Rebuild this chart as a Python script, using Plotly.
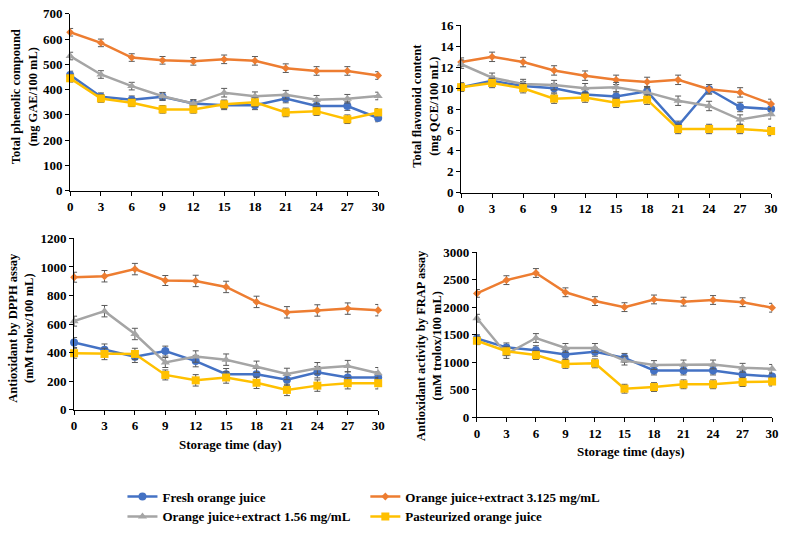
import plotly.graph_objects as go

days = [0, 3, 6, 9, 12, 15, 18, 21, 24, 27, 30]
series_names = ["Fresh orange juice", "Orange juice+extract 3.125 mg/mL",
                "Orange juice+extract 1.56 mg/mL", "Pasteurized orange juice"]

# Panel 1: total phenolic compound
tpc_fresh = [458, 372, 360, 372, 345, 338, 338, 365, 335, 335, 288]
tpc_ext3 = [627, 585, 527, 516, 512, 520, 514, 485, 474, 474, 456]
tpc_ext1 = [533, 460, 414, 374, 345, 388, 374, 380, 360, 364, 375]
tpc_past = [445, 365, 348, 322, 322, 342, 350, 310, 315, 283, 310]
tpc_err = [15, 15, 15, 15, 15, 17, 17, 17, 17, 17, 15]

# Panel 2: total flavonoid content
tfc_fresh = [10.1, 10.7, 10.2, 10.0, 9.4, 9.2, 9.7, 6.4, 9.9, 8.2, 8.0]
tfc_ext3 = [12.5, 13.0, 12.5, 11.7, 11.2, 10.8, 10.6, 10.8, 9.9, 9.6, 8.5]
tfc_ext1 = [12.3, 11.0, 10.4, 10.3, 10.0, 10.1, 9.6, 8.8, 8.3, 7.0, 7.5]
tfc_past = [10.1, 10.5, 10.0, 9.0, 9.1, 8.6, 8.9, 6.1, 6.1, 6.1, 5.9]
tfc_err = [0.4, 0.45, 0.45, 0.45, 0.45, 0.45, 0.45, 0.45, 0.45, 0.45, 0.45]

# Panel 3: DPPH
dpph_fresh = [470, 420, 370, 410, 340, 248, 248, 210, 262, 225, 225]
dpph_ext3 = [928, 935, 985, 905, 902, 860, 755, 682, 695, 708, 697]
dpph_ext1 = [620, 690, 530, 330, 372, 350, 300, 250, 290, 305, 255]
dpph_past = [395, 390, 390, 243, 205, 225, 188, 138, 168, 185, 185]
dpph_err = [35, 40, 40, 35, 40, 40, 40, 40, 40, 40, 40]

# Panel 4: FRAP
frap_fresh = [1430, 1270, 1220, 1140, 1190, 1080, 850, 850, 850, 780, 740]
frap_ext3 = [2250, 2490, 2620, 2270, 2110, 2000, 2140, 2100, 2130, 2090, 1990]
frap_ext1 = [1800, 1150, 1440, 1260, 1260, 1030, 950, 960, 960, 900, 880]
frap_past = [1390, 1200, 1130, 970, 980, 520, 550, 600, 600, 640, 650]
frap_err = [70, 80, 80, 80, 80, 80, 80, 80, 80, 80, 80]

colors = ["#4472C4", "#ED7D31", "#A5A5A5", "#FFC000"]
symbols = ["circle", "diamond", "triangle-up", "square"]
msizes = [8, 6, 8, 8]

panels = [
    dict(data=[tpc_fresh, tpc_ext3, tpc_ext1, tpc_past], err=tpc_err, yr=[0, 700], dt=100,
         xd=[68/787, 380/787], yd=[1-189/544, 1-7/544],
         title="Total phenolic compound<br>(mg GAE/100 mL)", tx=22, ty=92, xt=None),
    dict(data=[tfc_fresh, tfc_ext3, tfc_ext1, tfc_past], err=tfc_err, yr=[0, 16], dt=2,
         xd=[464/787, 778/787], yd=[1-191/544, 1-19/544],
         title="Total flavonoid content<br>(mg QCE/100 mL)", tx=428, ty=102, xt=None),
    dict(data=[dpph_fresh, dpph_ext3, dpph_ext1, dpph_past], err=dpph_err, yr=[0, 1200], dt=200,
         xd=[72/787, 380/787], yd=[1-414/544, 1-238/544],
         title="Antioxidant by DPPH assay<br>(mM trolox/100 mL)", tx=18, ty=330,
         xt="Storage time (day)", xtx=230, xty=450),
    dict(data=[frap_fresh, frap_ext3, frap_ext1, frap_past], err=frap_err, yr=[0, 3000], dt=500,
         xd=[480/787, 779/787], yd=[1-422/544, 1-252/544],
         title="Antioxidant activity by FRAP assay<br>(mM trolox/100 mL)", tx=432, ty=348,
         xt="Storage time (days)", xtx=636, xty=457),
]

font_fam = "Liberation Serif"
fig = go.Figure()
annotations = []
for i, p in enumerate(panels):
    n = "" if i == 0 else str(i + 1)
    for j, ys in enumerate(p["data"]):
        fig.add_trace(go.Scatter(
            x=days, y=ys, mode="lines+markers", name=series_names[j],
            line=dict(color=colors[j], width=2.5),
            marker=dict(symbol=symbols[j], size=msizes[j], color=colors[j]),
            error_y=dict(type="data", array=p["err"], color="#595959", thickness=1, width=3),
            xaxis="x" + n, yaxis="y" + n, cliponaxis=False,
            showlegend=(i == 0),
            legend="legend" if j in (0, 2) else "legend2",
        ))
    ax = dict(showline=True, linecolor="black", linewidth=1, showgrid=False, zeroline=False,
              ticks="outside", ticklen=4, tickcolor="black",
              tickfont=dict(family=font_fam, size=13, color="black", weight="bold"))
    fig.layout["xaxis" + n] = dict(ax, domain=p["xd"], range=[0, 30], tickvals=days,
                                   anchor="y" + n, ticklabeloverflow="allow")
    fig.layout["yaxis" + n] = dict(ax, domain=p["yd"], range=p["yr"], dtick=p["dt"],
                                   anchor="x" + n)
    annotations.append(dict(text=p["title"], x=p["tx"]/787, y=1-p["ty"]/544, xref="paper", yref="paper",
                            textangle=-90, showarrow=False, xanchor="center", yanchor="middle",
                            font=dict(family=font_fam, size=12.5, color="black", weight="bold")))
    if p["xt"]:
        annotations.append(dict(text=p["xt"], x=p["xtx"]/787, y=1-p["xty"]/544, xref="paper", yref="paper",
                                showarrow=False, xanchor="center", yanchor="middle",
                                font=dict(family=font_fam, size=13, color="black", weight="bold")))

leg_font = dict(family=font_fam, size=13, color="black", weight="bold")
fig.update_layout(
    width=787, height=544, margin=dict(l=0, r=0, t=0, b=0),
    paper_bgcolor="white", plot_bgcolor="white",
    annotations=annotations,
    legend=dict(x=121/787, y=1-488/544, xanchor="left", yanchor="top", font=leg_font,
                bgcolor="rgba(0,0,0,0)", tracegroupgap=0, itemwidth=30),
    legend2=dict(x=367/787, y=1-488/544, xanchor="left", yanchor="top", font=leg_font,
                 bgcolor="rgba(0,0,0,0)", tracegroupgap=0, itemwidth=30),
)
fig.write_html("out.html", config={"displayModeBar": False},
               post_script="document.body.style.margin='0';document.body.style.overflow='hidden';")
